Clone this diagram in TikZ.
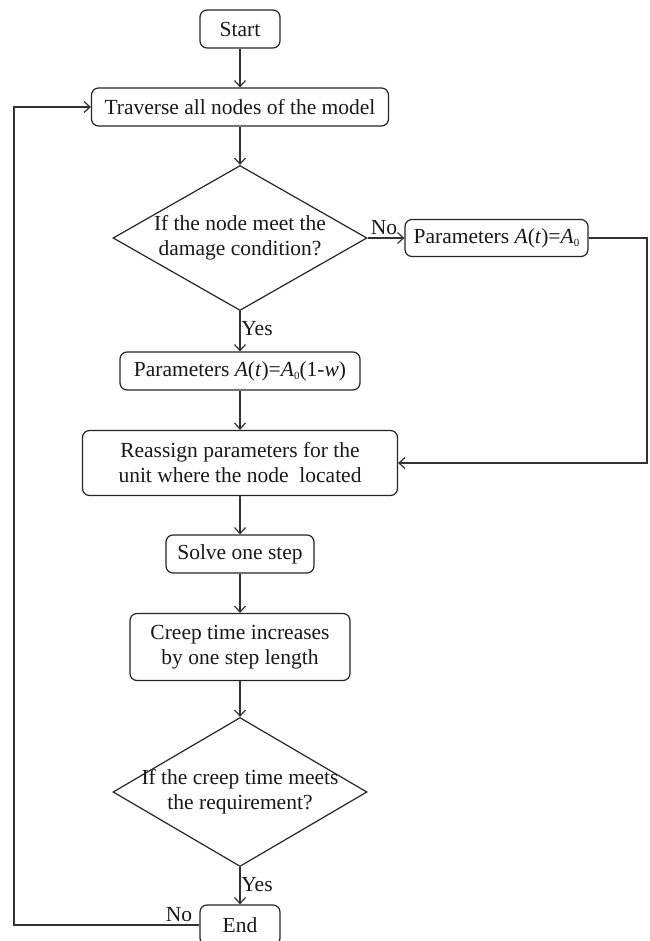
\documentclass[tikz,border=0pt]{standalone}
\usepackage{fontspec}
\setmainfont{Liberation Serif}
\usetikzlibrary{shapes.geometric,arrows.meta}
\begin{document}
\begin{tikzpicture}[x=1pt,y=-1pt,
  every node/.style={font=\fontsize{21.5}{25}\selectfont, text=black!90},
  box/.style={draw=black!85, line width=1.2pt, rounded corners=7pt, inner sep=0pt, align=center},
  dia/.style={draw=black!85, line width=1.2pt, diamond, inner sep=0pt, aspect=1.75},
  conn/.style={draw=black!80, line width=1.2pt},
  arr/.style={conn, -{Straight Barb[length=6pt,width=11pt,line width=1.2pt]}},
  lbl/.style={inner sep=0pt}]
\useasboundingbox (0,0) rectangle (649,941);
\clip (0,0) rectangle (649,941);
\fill[white] (0,0) rectangle (649,941);

\node[box, minimum width=80pt, minimum height=38pt] (start) at (240,29) {Start};
\node[box, minimum width=297pt, minimum height=38pt] (trav) at (240,107) {Traverse all nodes of the model};
\node[dia, minimum width=254pt, minimum height=145pt] (d1) at (240,238)
  {\makebox[0pt]{\begin{tabular}{@{}c@{}}If the node meet the\\damage condition?\end{tabular}}};
\node[box, minimum width=183pt, minimum height=37pt] (p0) at (496.5,238)
  {Parameters \textit{A}(\textit{t})=\textit{A}\raisebox{-0.3ex}{\fontsize{11}{11}\selectfont 0}};
\node[box, minimum width=240pt, minimum height=38pt] (p1) at (240,371)
  {Parameters \textit{A}(\textit{t})=\textit{A}\raisebox{-0.3ex}{\fontsize{11}{11}\selectfont 0}(1-\textit{w})};
\node[box, minimum width=315pt, minimum height=65pt] (reas) at (240,463)
  {Reassign parameters for the\\unit where the node\ \ located};
\node[box, minimum width=148pt, minimum height=38pt] (solve) at (240,554) {Solve one step};
\node[box, minimum width=220pt, minimum height=67pt] (creep) at (240,647)
  {Creep time increases\\by one step length};
\node[dia, minimum width=254pt, minimum height=149pt] (d2) at (240,792)
  {\makebox[0pt]{\begin{tabular}{@{}c@{}}If the creep time meets\\the requirement?\end{tabular}}};
\node[box, minimum width=80pt, minimum height=40pt] (end) at (240,925) {End};

\coordinate (rc) at (647,238);
\coordinate (lc) at (14,925);

\draw[arr] (start) -- (trav);
\draw[arr] (trav) -- (d1.north);
\draw[arr] (d1.east) -- (p0.west);
\draw[arr] (d1.south) -- (p1.north);
\draw[arr] (p0.east) -- (rc) |- (reas.east);
\draw[arr] (p1) -- (reas);
\draw[arr] (reas) -- (solve);
\draw[arr] (solve) -- (creep);
\draw[arr] (creep) -- (d2.north);
\draw[arr] (d2.south) -- (end.north);
\draw[arr] (end.west) -- (lc) |- (trav.west);

\node[lbl] (no1) at (384,228) {No};
\node[lbl] (yes1) at (257,329) {Yes};
\node[lbl] (yes2) at (257,885) {Yes};
\node[lbl] (no2) at (179,915) {No};
\end{tikzpicture}
\end{document}
